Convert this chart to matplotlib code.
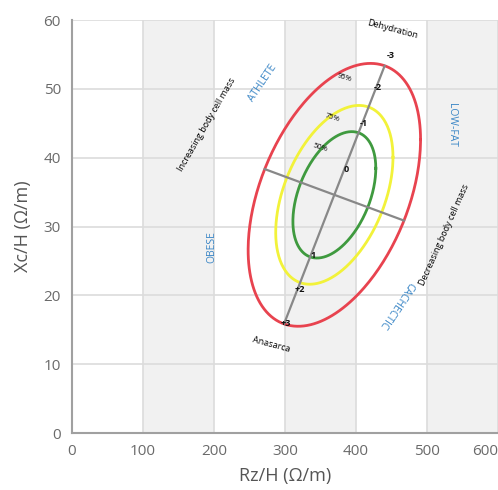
import numpy as np
import matplotlib
matplotlib.use('Agg')
import matplotlib.pyplot as plt

plt.rcParams['font.family'] = ['Open Sans', 'DejaVu Sans']

# reference population (BIVA tolerance ellipses)
mean_r, mean_xc = 369.5, 34.6
sd_r, sd_xc = 49.6, 7.8
corr = 0.42
levels = [50, 75, 95]
level_k = [1.177, 1.665, 2.448]  # sqrt of chi2(2 df) quantiles
level_colors = ['#3f9a3f', '#f2f23a', '#e8434f']

# directions of the drawn axes (data units)
major_dir = (70.3, 18.6)
minor_dir = (97.0, -3.7)
major_labels = ['-3', '-2', '-1', '0', '1', '+2', '+3']
major_label_pos = [1.08, 0.83, 0.55, 0.2, -0.47, -0.73, -1.0]

xticks = [0, 100, 200, 300, 400, 500, 600]
yticks = [0, 10, 20, 30, 40, 50, 60]
bands = [(100, 200), (300, 400), (500, 600)]

fig = plt.figure(figsize=(4.98, 4.90), dpi=100)
ax = fig.add_axes([72 / 498, 1 - 433 / 490, 1 - 72 / 498, (433 - 20) / 490])

for a, b in bands:
    ax.axvspan(a, b, color='#f1f1f1', zorder=0, lw=0)
ax.set_xlim(0, 600)
ax.set_ylim(0, 60)
ax.set_xticks(xticks)
ax.set_yticks(yticks)
ax.grid(True, color='#dcdcdc', lw=1.2, zorder=1)
ax.set_axisbelow(True)
for s in ['top', 'right']:
    ax.spines[s].set_visible(False)
for s in ['left', 'bottom']:
    ax.spines[s].set_color('#a0a0a0')
    ax.spines[s].set_linewidth(1.5)
ax.tick_params(length=0, labelsize=11, labelcolor='#6a6a6a', pad=8)
ax.get_xticklabels()[-1].set_horizontalalignment('right')

t = np.linspace(0, 2 * np.pi, 300)
for k, c in zip(level_k, level_colors):
    ex = mean_r + k * sd_r * np.cos(t)
    ey = mean_xc + k * sd_xc * (corr * np.cos(t) + np.sqrt(1 - corr ** 2) * np.sin(t))
    ax.plot(ex, ey, color=c, lw=2, zorder=3)


def on_ellipse(d, k):
    u, v = d[0] / sd_r, d[1] / sd_xc
    m = np.sqrt((u * u - 2 * corr * u * v + v * v) / (1 - corr ** 2))
    return d[0] * k / m, d[1] * k / m


k95 = level_k[-1]
mx, my = on_ellipse(major_dir, k95)
nx, ny = on_ellipse(minor_dir, k95)
ax.plot([mean_r - mx, mean_r + mx], [mean_xc - my, mean_xc + my], color='#888888', lw=1.6, zorder=4)
ax.plot([mean_r - nx, mean_r + nx], [mean_xc - ny, mean_xc + ny], color='#888888', lw=1.6, zorder=4)

for lab, f in zip(major_labels, major_label_pos):
    ax.text(mean_r + f * mx + 3, mean_xc + f * my, lab, fontsize=6.5, fontweight='bold',
            ha='center', va='center', color='#111111', zorder=5)

# percent labels
ax.text(383, 51.6, '95%', fontsize=5.5, rotation=-18, ha='center', va='center')
ax.text(367, 45.8, '75%', fontsize=5.5, rotation=-18, ha='center', va='center')
ax.text(350, 41.4, '50%', fontsize=5.5, rotation=-18, ha='center', va='center')

# direction labels
ax.text(451, 58.6, 'Dehydration', fontsize=6.5, rotation=-15, ha='center', va='center')
ax.text(280, 12.9, 'Anasarca', fontsize=6.5, rotation=-15, ha='center', va='center')
ax.text(190, 44.8, 'Increasing body cell mass', fontsize=6.5, rotation=60, ha='center', va='center')
ax.text(524, 28.8, 'Decreasing body cell mass', fontsize=6.5, rotation=66, ha='center', va='center')

blue = '#3a86c6'
ax.text(268, 50.9, 'ATHLETE', fontsize=7.5, rotation=56, ha='center', va='center', color=blue)
ax.text(535, 44.8, 'LOW-FAT', fontsize=7.5, rotation=-90, ha='center', va='center', color=blue)
ax.text(197, 27, 'OBESE', fontsize=7.5, rotation=90, ha='center', va='center', color=blue)
ax.text(457, 18.6, 'CACHECTIC', fontsize=7.5, rotation=236, ha='center', va='center', color=blue)

ax.set_xlabel('Rz/H (Ω/m)', fontsize=13, color='#555555', labelpad=6)
ax.set_ylabel('Xc/H (Ω/m)', fontsize=13, color='#555555', labelpad=8)

fig.savefig('out.png', dpi=100)
